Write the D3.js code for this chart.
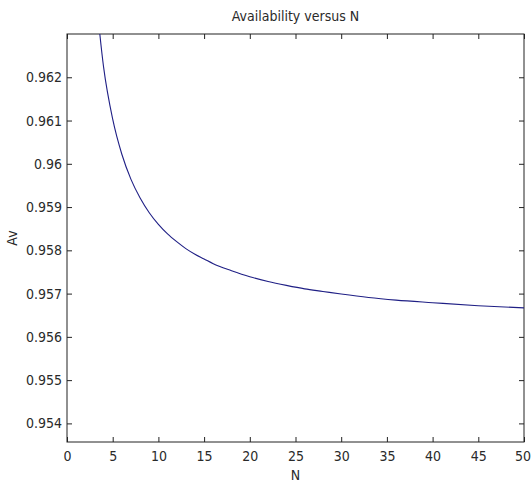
<!DOCTYPE html>
<html>
<head>
<meta charset="utf-8">
<script src="https://cdn.jsdelivr.net/npm/d3@7"></script>
<style>
  html, body { margin: 0; padding: 0; background: #fff; }
  svg text { font-family: "Liberation Sans Narrow", "DejaVu Sans Condensed", "Liberation Sans", sans-serif; fill: #2a2a2a; }
</style>
</head>
<body>
<div id="chart"></div>
<script>
// values
const nValues = [3, 4, 5, 6, 7, 8, 9, 10, 11, 12, 13, 14, 15, 16, 18, 20, 22, 24, 26, 28, 30, 33, 36, 40, 45, 50];
const avValues = [0.96426, 0.96224, 0.96103, 0.96022, 0.95964, 0.95921, 0.95887, 0.95860, 0.95838, 0.95820,
    0.95804, 0.95791, 0.95780, 0.95769, 0.95753, 0.95739, 0.95728, 0.95719, 0.95711, 0.95705,
    0.95699, 0.95691, 0.95685, 0.95679, 0.95672, 0.95667];
const xTicks = [0, 5, 10, 15, 20, 25, 30, 35, 40, 45, 50];
const yTicks = [0.954, 0.955, 0.956, 0.957, 0.958, 0.959, 0.96, 0.961, 0.962];

const width = 531;
const height = 485;
const margin = { top: 34, right: 7, bottom: 43, left: 67 };
const innerW = width - margin.left - margin.right;
const innerH = height - margin.top - margin.bottom;

const svg = d3.select("#chart")
    .append("svg")
    .attr("width", width)
    .attr("height", height);

const g = svg.append("g")
    .attr("transform", `translate(${margin.left},${margin.top})`);

const x = d3.scaleLinear().domain([0, 50]).range([0, innerW]);
const y = d3.scaleLinear().domain([0.95357, 0.963]).range([innerH, 0]);

const fmt = v => String(+v.toFixed(3));

// ticks on all four sides, pointing inward
const styleAxis = sel => {
    sel.select(".domain").remove();
    sel.selectAll(".tick line").attr("stroke", "#222").attr("stroke-width", 1);
    sel.selectAll(".tick text").style("font-size", "14px");
};

const xAxis = g.append("g")
    .attr("transform", `translate(0,${innerH})`)
    .call(d3.axisBottom(x).tickValues(xTicks).tickFormat(d => d).tickSize(-5).tickPadding(9))
    .call(styleAxis);

// keep the last label inside the window
xAxis.selectAll(".tick text").filter(d => d === 50).attr("dx", "-1.5");

g.append("g")
    .call(d3.axisTop(x).tickValues(xTicks).tickFormat("").tickSize(-5))
    .call(styleAxis);

g.append("g")
    .call(d3.axisLeft(y).tickValues(yTicks).tickFormat(fmt).tickSize(-5).tickPadding(5))
    .call(styleAxis);

g.append("g")
    .attr("transform", `translate(${innerW},0)`)
    .call(d3.axisRight(y).tickValues(yTicks).tickFormat("").tickSize(-5))
    .call(styleAxis);

g.append("rect")
    .attr("width", innerW)
    .attr("height", innerH)
    .attr("fill", "none")
    .attr("stroke", "#222")
    .attr("stroke-width", 1);

g.append("clipPath")
    .attr("id", "clip")
    .append("rect")
    .attr("width", innerW)
    .attr("height", innerH);

const points = nValues.map((n, i) => [n, avValues[i]]);

const line = d3.line()
    .x(d => x(d[0]))
    .y(d => y(d[1]))
    .curve(d3.curveMonotoneX);

g.append("path")
    .datum(points)
    .attr("clip-path", "url(#clip)")
    .attr("fill", "none")
    .attr("stroke", "#1f1f85")
    .attr("stroke-width", 1.1)
    .attr("d", line);

svg.append("text")
    .attr("x", margin.left + innerW / 2)
    .attr("y", 21)
    .attr("text-anchor", "middle")
    .style("font-size", "14px")
    .text("Availability versus N");

svg.append("text")
    .attr("x", margin.left + innerW / 2)
    .attr("y", 480)
    .attr("text-anchor", "middle")
    .style("font-size", "14px")
    .text("N");

svg.append("text")
    .attr("transform", `translate(17,${margin.top + innerH / 2}) rotate(-90)`)
    .attr("text-anchor", "middle")
    .style("font-size", "14px")
    .text("Av");
</script>
</body>
</html>
